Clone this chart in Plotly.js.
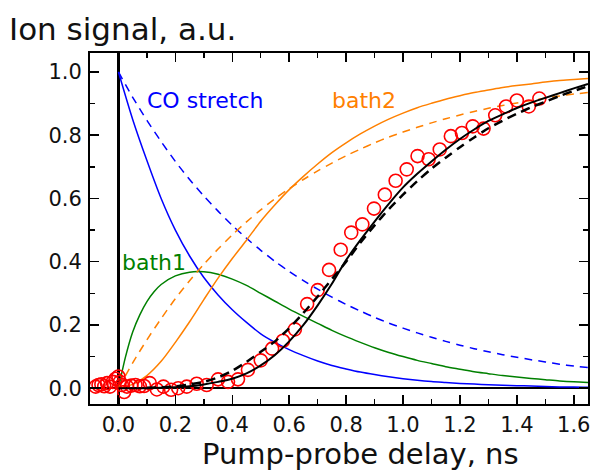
<!DOCTYPE html>
<html><head><meta charset="utf-8">
<script src="https://cdn.plot.ly/plotly-3.0.1.min.js"></script>
<style>html,body{margin:0;padding:0;background:#fff}#chart{width:593px;height:472px}</style>
</head><body><div id="chart"></div>
<script>
// model time grid (ns)
const tModel = [0, 0.05, 0.1, 0.15, 0.2, 0.25, 0.3, 0.35, 0.4, 0.45, 0.5, 0.55, 0.6, 0.65, 0.7, 0.75, 0.8, 0.85, 0.9, 0.95, 1.0, 1.05, 1.1, 1.15, 1.2, 1.25, 1.3, 1.35, 1.4, 1.45, 1.5, 1.55, 1.6, 1.65];
const coSolid   = [1.0, 0.85, 0.72, 0.6, 0.5, 0.418, 0.35, 0.295, 0.248, 0.208, 0.172, 0.145, 0.122, 0.103, 0.086, 0.072, 0.061, 0.051, 0.043, 0.036, 0.03, 0.025, 0.021, 0.018, 0.015, 0.013, 0.011, 0.009, 0.008, 0.007, 0.005, 0.004, 0.004, 0.003];
const coDashed  = [1.0, 0.92, 0.847, 0.78, 0.717, 0.66, 0.608, 0.56, 0.515, 0.474, 0.436, 0.401, 0.369, 0.34, 0.313, 0.288, 0.265, 0.244, 0.224, 0.206, 0.19, 0.175, 0.161, 0.148, 0.136, 0.125, 0.115, 0.106, 0.098, 0.09, 0.083, 0.076, 0.07, 0.065];
const bath2Solid = [0, 0.012, 0.04, 0.085, 0.145, 0.21, 0.28, 0.348, 0.41, 0.468, 0.528, 0.58, 0.628, 0.67, 0.709, 0.745, 0.776, 0.804, 0.829, 0.851, 0.87, 0.887, 0.901, 0.914, 0.925, 0.935, 0.943, 0.951, 0.957, 0.962, 0.968, 0.973, 0.976, 0.979];
const bath2Dashed = [0, 0.08, 0.153, 0.22, 0.283, 0.34, 0.392, 0.44, 0.485, 0.526, 0.564, 0.599, 0.631, 0.66, 0.687, 0.712, 0.735, 0.756, 0.776, 0.794, 0.81, 0.825, 0.839, 0.852, 0.864, 0.875, 0.885, 0.894, 0.902, 0.91, 0.917, 0.924, 0.93, 0.935];

// bath1 needs a finer grid near zero
const tBath1 = [0, 0.025, 0.05, 0.075, 0.1, 0.125, 0.15, 0.2, 0.25, 0.3, 0.35, 0.4, 0.45, 0.5, 0.55, 0.6, 0.65, 0.7, 0.75, 0.8, 0.85, 0.9, 0.95, 1.0, 1.05, 1.1, 1.15, 1.2, 1.25, 1.3, 1.35, 1.4, 1.45, 1.5, 1.55, 1.6, 1.65];
const bath1Solid = [0, 0.1, 0.178, 0.232, 0.274, 0.305, 0.328, 0.355, 0.367, 0.368, 0.36, 0.345, 0.325, 0.30, 0.275, 0.25, 0.227, 0.205, 0.183, 0.163, 0.145, 0.128, 0.113, 0.10, 0.088, 0.078, 0.068, 0.06, 0.052, 0.046, 0.04, 0.035, 0.031, 0.027, 0.023, 0.02, 0.018];

// fits to the ion signal
const tFit = [0, 0.05, 0.1, 0.15, 0.2, 0.25, 0.3, 0.35, 0.4, 0.45, 0.5, 0.55, 0.6, 0.65, 0.7, 0.75, 0.8, 0.85, 0.9, 0.95, 1.0, 1.05, 1.1, 1.15, 1.2, 1.25, 1.3, 1.35, 1.4, 1.45, 1.5, 1.55, 1.6, 1.65];
const fitSolid = [0, 0, 0, 0.001, 0.003, 0.006, 0.012, 0.02, 0.03, 0.047, 0.072, 0.105, 0.148, 0.2, 0.262, 0.33, 0.405, 0.468, 0.527, 0.583, 0.635, 0.678, 0.717, 0.754, 0.788, 0.818, 0.845, 0.866, 0.886, 0.903, 0.918, 0.933, 0.948, 0.962];
const tFitD = [0.1, 0.15, 0.2, 0.25, 0.3, 0.35, 0.4, 0.45, 0.5, 0.55, 0.6, 0.65, 0.7, 0.75, 0.8, 0.85, 0.9, 0.95, 1.0, 1.05, 1.1, 1.15, 1.2, 1.25, 1.3, 1.35, 1.4, 1.45, 1.5, 1.55, 1.6, 1.65];
const fitDashed = [0.001, 0.003, 0.006, 0.012, 0.02, 0.034, 0.055, 0.083, 0.115, 0.148, 0.19, 0.238, 0.29, 0.345, 0.4, 0.46, 0.515, 0.566, 0.612, 0.655, 0.694, 0.729, 0.762, 0.793, 0.822, 0.846, 0.868, 0.888, 0.906, 0.924, 0.94, 0.955];

// measured ion signal
const tData = [-0.08, -0.07, -0.06, -0.05, -0.04, -0.03, -0.02, -0.01, 0.0, 0.005, 0.012, 0.02, 0.03, 0.045, 0.06, 0.075, 0.09, 0.11, 0.135, 0.158, 0.185, 0.21, 0.24, 0.275, 0.31, 0.35, 0.385, 0.42, 0.455, 0.5, 0.54, 0.578, 0.62, 0.663, 0.7, 0.74, 0.781, 0.818, 0.857, 0.898, 0.936, 0.974, 1.013, 1.051, 1.09, 1.129, 1.168, 1.207, 1.245, 1.283, 1.324, 1.362, 1.4, 1.442, 1.479];
const vData = [0.005, 0.01, 0.012, 0.006, 0.016, 0.005, 0.02, 0.03, 0.037, 0.02, 0.01, -0.012, 0.005, 0.008, 0.01, 0.006, 0.007, 0.016, -0.004, 0.005, -0.005, 0.0, 0.005, 0.014, 0.01, 0.028, 0.02, 0.028, 0.058, 0.088, 0.125, 0.15, 0.186, 0.266, 0.31, 0.374, 0.438, 0.492, 0.518, 0.568, 0.612, 0.656, 0.692, 0.734, 0.724, 0.755, 0.797, 0.807, 0.828, 0.821, 0.863, 0.891, 0.91, 0.891, 0.916];

const xTicks = [0, 0.2, 0.4, 0.6, 0.8, 1.0, 1.2, 1.4, 1.6];
const xTickText = ['0.0', '0.2', '0.4', '0.6', '0.8', '1.0', '1.2', '1.4', '1.6'];
const yTicks = [0, 0.2, 0.4, 0.6, 0.8, 1.0];
const yTickText = ['0.0', '0.2', '0.4', '0.6', '0.8', '1.0'];

const BLUE = '#0000ff', GREEN = '#008000', ORANGE = '#ff8000', RED = '#ff0000';
const FONT = 'DejaVu Sans, Verdana, sans-serif';

function line(x, y, color, width, dash) {
  return {x: x, y: y, type: 'scatter', mode: 'lines', hoverinfo: 'skip',
          line: {color: color, width: width, dash: dash || 'solid', shape: 'spline', smoothing: 0.8}};
}

const traces = [
  line(tModel, coDashed, BLUE, 1.5, '8px,6px'),
  line(tModel, coSolid, BLUE, 1.5),
  line(tBath1, bath1Solid, GREEN, 1.5),
  line(tModel, bath2Dashed, ORANGE, 1.5, '8px,6px'),
  line(tModel, bath2Solid, ORANGE, 1.5),
  {x: tData, y: vData, type: 'scatter', mode: 'markers',
   marker: {symbol: 'circle-open', size: 13, color: RED, line: {color: RED, width: 1.6}}},
  line(tFitD, fitDashed, '#000', 2.5, '9px,6px'),
  line(tFit, fitSolid, '#000', 2)
];

const axisCommon = {
  showline: true, linecolor: '#000', linewidth: 2, mirror: 'ticks',
  ticks: 'inside', ticklen: 9, tickwidth: 1.5, tickcolor: '#000',
  showgrid: false, zeroline: true, zerolinecolor: '#000', zerolinewidth: 2.5,
  tickfont: {family: FONT, size: 21, color: '#111'},
  minor: {ticks: 'inside', ticklen: 5, tickwidth: 1.5, tickcolor: '#000', dtick: 0.1, showgrid: false}
};

const layout = {
  width: 593, height: 472,
  margin: {l: 90, r: 5, t: 53, b: 68},
  paper_bgcolor: '#fff', plot_bgcolor: '#fff',
  showlegend: false,
  font: {family: FONT, color: '#111'},
  title: {text: 'Ion signal, a.u.', x: 9/593, xanchor: 'left', xref: 'container',
          y: 1 - 29/472, yanchor: 'middle', yref: 'container',
          font: {family: FONT, size: 31, color: '#111'}},
  xaxis: Object.assign({}, axisCommon, {range: [-0.1, 1.65], tickvals: xTicks, ticktext: xTickText, ticklabelstandoff: 1}),
  yaxis: Object.assign({}, axisCommon, {range: [-0.05, 1.06], tickvals: yTicks, ticktext: yTickText, ticklabelstandoff: 2}),
  annotations: [
    {text: 'Pump-probe delay, ns', xref: 'paper', yref: 'paper', x: (360-90)/498, y: (404-454)/351,
     xanchor: 'center', yanchor: 'middle', showarrow: false, font: {family: FONT, size: 29, color: '#111'}},
    {text: 'CO stretch', x: 0.093, y: 0.91, xanchor: 'left', yanchor: 'middle', showarrow: false,
     font: {family: FONT, size: 22, color: BLUE}},
    {text: 'bath2', x: 0.745, y: 0.91, xanchor: 'left', yanchor: 'middle', showarrow: false,
     font: {family: FONT, size: 22, color: ORANGE}},
    {text: 'bath1', x: 0.006, y: 0.396, xanchor: 'left', yanchor: 'middle', showarrow: false,
     font: {family: FONT, size: 22, color: GREEN}}
  ]
};

Plotly.newPlot('chart', traces, layout, {staticPlot: true, displayModeBar: false});
</script></body></html>
